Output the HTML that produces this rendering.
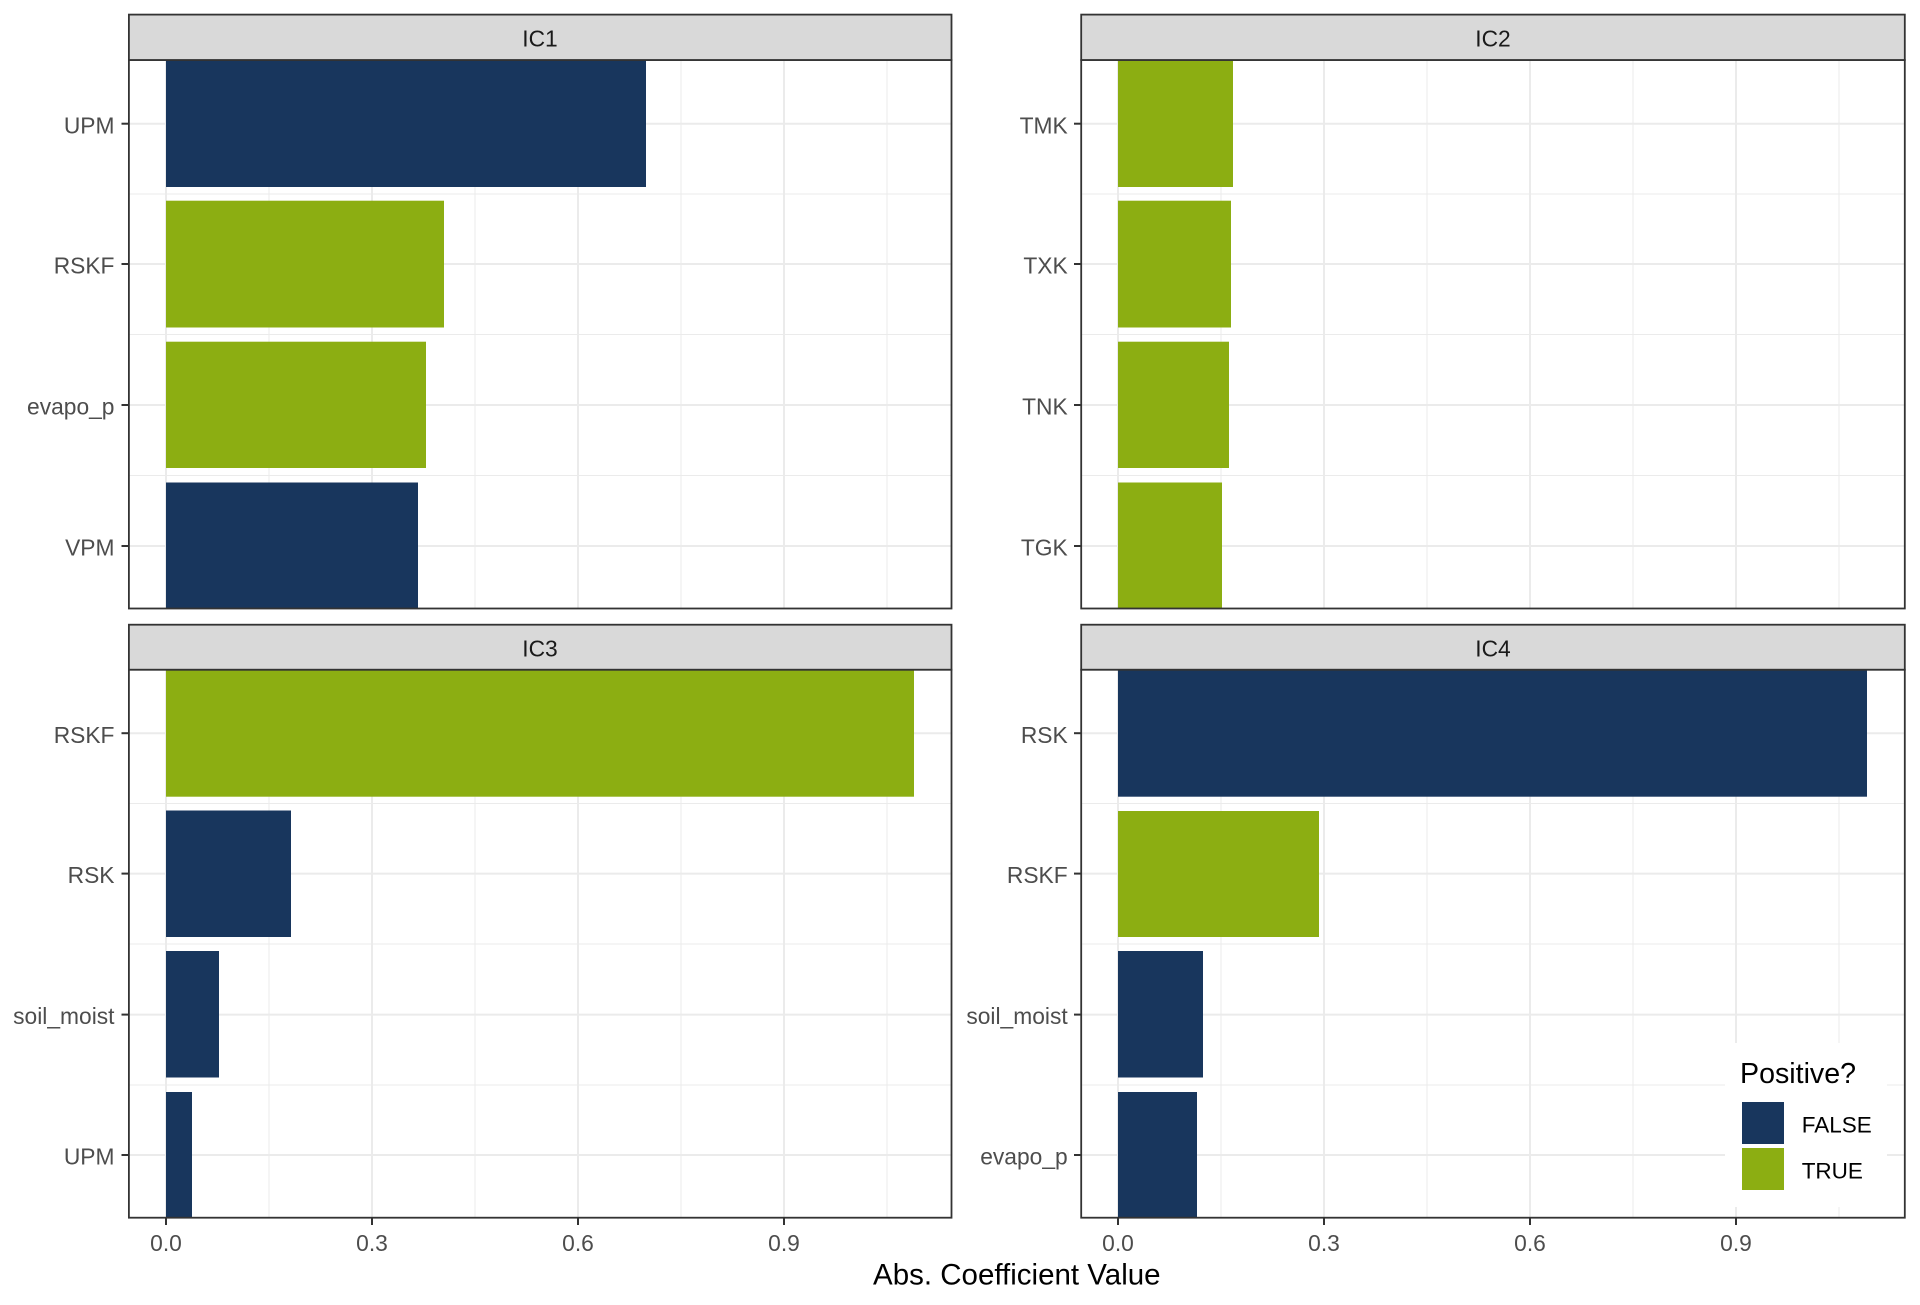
<!DOCTYPE html>
<html><head><meta charset="utf-8"><style>
html,body{margin:0;padding:0;background:#fff;}
svg{display:block;}
text{font-family:"Liberation Sans",Arial,sans-serif;}
</style></head><body>
<svg width="1920" height="1305" viewBox="0 0 1920 1305" xmlns="http://www.w3.org/2000/svg">
<rect width="1920" height="1305" fill="#fff"/>
<defs>
<clipPath id="c1"><rect x="129" y="60" width="822" height="548.5"/></clipPath>
<clipPath id="c2"><rect x="1081" y="60" width="824" height="548.5"/></clipPath>
<clipPath id="c3"><rect x="129" y="669.7" width="822" height="548"/></clipPath>
<clipPath id="c4"><rect x="1081" y="669.7" width="824" height="548"/></clipPath>
</defs>

<!-- ========== Panel 1 (IC1) ========== -->
<g clip-path="url(#c1)">
<g stroke="#EBEBEB" stroke-width="1">
<line x1="129" x2="951" y1="194" y2="194"/><line x1="129" x2="951" y1="334.5" y2="334.5"/><line x1="129" x2="951" y1="475.5" y2="475.5"/>
<line x1="269" x2="269" y1="60" y2="609"/><line x1="475" x2="475" y1="60" y2="609"/><line x1="681" x2="681" y1="60" y2="609"/><line x1="887" x2="887" y1="60" y2="609"/>
</g>
<g stroke="#EBEBEB" stroke-width="2">
<line x1="129" x2="951" y1="123.7" y2="123.7"/><line x1="129" x2="951" y1="264" y2="264"/><line x1="129" x2="951" y1="405" y2="405"/><line x1="129" x2="951" y1="546" y2="546"/>
<line x1="166" x2="166" y1="60" y2="609"/><line x1="372" x2="372" y1="60" y2="609"/><line x1="578" x2="578" y1="60" y2="609"/><line x1="784" x2="784" y1="60" y2="609"/>
</g>
<rect x="166" y="60" width="480" height="127" fill="#18365D"/>
<rect x="166" y="200.7" width="278" height="126.8" fill="#8CAE12"/>
<rect x="166" y="341.7" width="260" height="126.3" fill="#8CAE12"/>
<rect x="166" y="482.5" width="252" height="128" fill="#18365D"/>
</g>
<rect x="128.9" y="60" width="822.6" height="548.5" fill="none" stroke="#333" stroke-width="1.8"/>
<rect x="128.9" y="14.6" width="822.6" height="45.4" fill="#D9D9D9" stroke="#333" stroke-width="1.8"/>
<text x="540" y="46.5" font-size="22.8" fill="#1A1A1A" text-anchor="middle">IC1</text>

<!-- ========== Panel 2 (IC2) ========== -->
<g clip-path="url(#c2)">
<g stroke="#EBEBEB" stroke-width="1">
<line x1="1081" x2="1905" y1="194" y2="194"/><line x1="1081" x2="1905" y1="334.5" y2="334.5"/><line x1="1081" x2="1905" y1="475.5" y2="475.5"/>
<line x1="1221" x2="1221" y1="60" y2="609"/><line x1="1427" x2="1427" y1="60" y2="609"/><line x1="1633" x2="1633" y1="60" y2="609"/><line x1="1839" x2="1839" y1="60" y2="609"/>
</g>
<g stroke="#EBEBEB" stroke-width="2">
<line x1="1081" x2="1905" y1="123.7" y2="123.7"/><line x1="1081" x2="1905" y1="264" y2="264"/><line x1="1081" x2="1905" y1="405" y2="405"/><line x1="1081" x2="1905" y1="546" y2="546"/>
<line x1="1118" x2="1118" y1="60" y2="609"/><line x1="1324" x2="1324" y1="60" y2="609"/><line x1="1530" x2="1530" y1="60" y2="609"/><line x1="1736" x2="1736" y1="60" y2="609"/>
</g>
<rect x="1118" y="60" width="115" height="127" fill="#8CAE12"/>
<rect x="1118" y="200.7" width="113" height="126.8" fill="#8CAE12"/>
<rect x="1118" y="341.7" width="111" height="126.3" fill="#8CAE12"/>
<rect x="1118" y="482.5" width="104" height="128" fill="#8CAE12"/>
</g>
<rect x="1081.2" y="60" width="823.6" height="548.5" fill="none" stroke="#333" stroke-width="1.8"/>
<rect x="1081.2" y="14.6" width="823.6" height="45.4" fill="#D9D9D9" stroke="#333" stroke-width="1.8"/>
<text x="1493" y="46.5" font-size="22.8" fill="#1A1A1A" text-anchor="middle">IC2</text>

<!-- ========== Panel 3 (IC3) ========== -->
<g clip-path="url(#c3)">
<g stroke="#EBEBEB" stroke-width="1">
<line x1="129" x2="951" y1="803.5" y2="803.5"/><line x1="129" x2="951" y1="944" y2="944"/><line x1="129" x2="951" y1="1085" y2="1085"/>
<line x1="269" x2="269" y1="669" y2="1218"/><line x1="475" x2="475" y1="669" y2="1218"/><line x1="681" x2="681" y1="669" y2="1218"/><line x1="887" x2="887" y1="669" y2="1218"/>
</g>
<g stroke="#EBEBEB" stroke-width="2">
<line x1="129" x2="951" y1="733.2" y2="733.2"/><line x1="129" x2="951" y1="873.6" y2="873.6"/><line x1="129" x2="951" y1="1014.6" y2="1014.6"/><line x1="129" x2="951" y1="1155" y2="1155"/>
<line x1="166" x2="166" y1="669" y2="1218"/><line x1="372" x2="372" y1="669" y2="1218"/><line x1="578" x2="578" y1="669" y2="1218"/><line x1="784" x2="784" y1="669" y2="1218"/>
</g>
<rect x="166" y="669.7" width="748" height="127" fill="#8CAE12"/>
<rect x="166" y="810.5" width="125" height="126.5" fill="#18365D"/>
<rect x="166" y="951" width="53" height="126.5" fill="#18365D"/>
<rect x="166" y="1092" width="26" height="128" fill="#18365D"/>
</g>
<rect x="128.9" y="669.7" width="822.6" height="548" fill="none" stroke="#333" stroke-width="1.8"/>
<rect x="128.9" y="624.7" width="822.6" height="45" fill="#D9D9D9" stroke="#333" stroke-width="1.8"/>
<text x="540" y="656.3" font-size="22.8" fill="#1A1A1A" text-anchor="middle">IC3</text>

<!-- ========== Panel 4 (IC4) ========== -->
<g clip-path="url(#c4)">
<g stroke="#EBEBEB" stroke-width="1">
<line x1="1081" x2="1905" y1="803.5" y2="803.5"/><line x1="1081" x2="1905" y1="944" y2="944"/><line x1="1081" x2="1905" y1="1085" y2="1085"/>
<line x1="1221" x2="1221" y1="669" y2="1218"/><line x1="1427" x2="1427" y1="669" y2="1218"/><line x1="1633" x2="1633" y1="669" y2="1218"/><line x1="1839" x2="1839" y1="669" y2="1218"/>
</g>
<g stroke="#EBEBEB" stroke-width="2">
<line x1="1081" x2="1905" y1="733.2" y2="733.2"/><line x1="1081" x2="1905" y1="873.6" y2="873.6"/><line x1="1081" x2="1905" y1="1014.6" y2="1014.6"/><line x1="1081" x2="1905" y1="1155" y2="1155"/>
<line x1="1118" x2="1118" y1="669" y2="1218"/><line x1="1324" x2="1324" y1="669" y2="1218"/><line x1="1530" x2="1530" y1="669" y2="1218"/><line x1="1736" x2="1736" y1="669" y2="1218"/>
</g>
<rect x="1118" y="669.7" width="749" height="127" fill="#18365D"/>
<rect x="1118" y="811" width="201" height="126" fill="#8CAE12"/>
<rect x="1118" y="951" width="85" height="126.5" fill="#18365D"/>
<rect x="1118" y="1092" width="79" height="128" fill="#18365D"/>
<!-- legend background -->
<rect x="1725" y="1043" width="162" height="164" fill="#fff"/>
</g>
<rect x="1081.2" y="669.7" width="823.6" height="548" fill="none" stroke="#333" stroke-width="1.8"/>
<rect x="1081.2" y="624.7" width="823.6" height="45" fill="#D9D9D9" stroke="#333" stroke-width="1.8"/>
<text x="1493" y="656.3" font-size="22.8" fill="#1A1A1A" text-anchor="middle">IC4</text>

<!-- ========== Y axis ticks & labels ========== -->
<g stroke="#333" stroke-width="2">
<line x1="121.5" x2="129" y1="123.7" y2="123.7"/><line x1="121.5" x2="129" y1="264" y2="264"/><line x1="121.5" x2="129" y1="405" y2="405"/><line x1="121.5" x2="129" y1="546" y2="546"/>
<line x1="1074" x2="1081" y1="123.7" y2="123.7"/><line x1="1074" x2="1081" y1="264" y2="264"/><line x1="1074" x2="1081" y1="405" y2="405"/><line x1="1074" x2="1081" y1="546" y2="546"/>
<line x1="121.5" x2="129" y1="733.2" y2="733.2"/><line x1="121.5" x2="129" y1="873.6" y2="873.6"/><line x1="121.5" x2="129" y1="1014.6" y2="1014.6"/><line x1="121.5" x2="129" y1="1155" y2="1155"/>
<line x1="1074" x2="1081" y1="733.2" y2="733.2"/><line x1="1074" x2="1081" y1="873.6" y2="873.6"/><line x1="1074" x2="1081" y1="1014.6" y2="1014.6"/><line x1="1074" x2="1081" y1="1155" y2="1155"/>
</g>
<g font-size="22.8" fill="#4D4D4D" text-anchor="end">
<text x="114.5" y="133.3">UPM</text>
<text x="114.5" y="273.6">RSKF</text>
<text x="114.5" y="414.6">evapo_p</text>
<text x="114.5" y="555.6">VPM</text>
<text x="1067.7" y="133.3">TMK</text>
<text x="1067.7" y="273.6">TXK</text>
<text x="1067.7" y="414.6">TNK</text>
<text x="1067.7" y="555.6">TGK</text>
<text x="114.5" y="742.8">RSKF</text>
<text x="114.5" y="883.2">RSK</text>
<text x="114.5" y="1024.2">soil_moist</text>
<text x="114.5" y="1164.6">UPM</text>
<text x="1067.7" y="742.8">RSK</text>
<text x="1067.7" y="883.2">RSKF</text>
<text x="1067.7" y="1024.2">soil_moist</text>
<text x="1067.7" y="1164.6">evapo_p</text>
</g>

<!-- ========== X axis ticks & labels ========== -->
<g stroke="#333" stroke-width="2">
<line x1="166" x2="166" y1="1218" y2="1225"/><line x1="372" x2="372" y1="1218" y2="1225"/><line x1="578" x2="578" y1="1218" y2="1225"/><line x1="784" x2="784" y1="1218" y2="1225"/>
<line x1="1118" x2="1118" y1="1218" y2="1225"/><line x1="1324" x2="1324" y1="1218" y2="1225"/><line x1="1530" x2="1530" y1="1218" y2="1225"/><line x1="1736" x2="1736" y1="1218" y2="1225"/>
</g>
<g font-size="22.8" fill="#4D4D4D" text-anchor="middle">
<text x="166" y="1251">0.0</text><text x="372" y="1251">0.3</text><text x="578" y="1251">0.6</text><text x="784" y="1251">0.9</text>
<text x="1118" y="1251">0.0</text><text x="1324" y="1251">0.3</text><text x="1530" y="1251">0.6</text><text x="1736" y="1251">0.9</text>
</g>
<text x="1016.8" y="1284.5" font-size="29.5" fill="#000" text-anchor="middle">Abs. Coefficient Value</text>

<!-- ========== Legend ========== -->
<text x="1740" y="1083" font-size="28.6" fill="#000">Positive?</text>
<rect x="1742" y="1102" width="42" height="42" fill="#18365D"/>
<rect x="1742" y="1148" width="42" height="42" fill="#8CAE12"/>
<text x="1801.7" y="1132.7" font-size="22.5" fill="#000">FALSE</text>
<text x="1801.7" y="1178.7" font-size="22.5" fill="#000">TRUE</text>
</svg>
</body></html>
